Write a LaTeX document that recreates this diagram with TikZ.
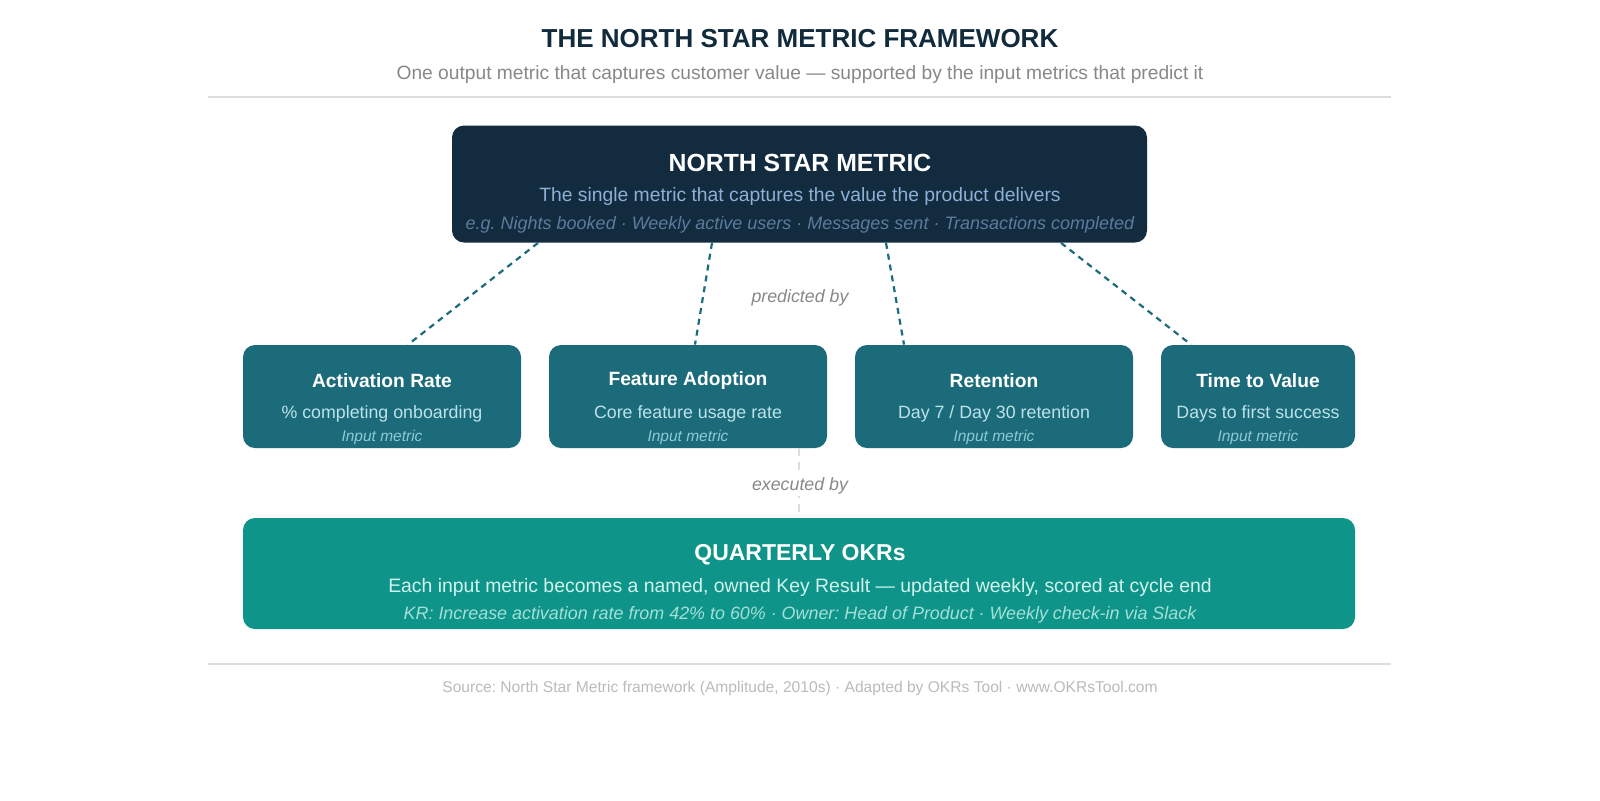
\documentclass[tikz,border=0pt]{standalone}
\usepackage{fontspec}
\setmainfont{Liberation Sans}
\usetikzlibrary{positioning}
\frenchspacing
\definecolor{navy}{HTML}{122B3F}
\definecolor{titleink}{HTML}{112A3C}
\definecolor{navysub}{HTML}{8DB0D6}
\definecolor{navyeg}{HTML}{5B7C9C}
\definecolor{inbox}{HTML}{1C6B7A}
\definecolor{insub}{HTML}{BCE3EA}
\definecolor{initalic}{HTML}{8DCAD6}
\definecolor{okrbox}{HTML}{0E9488}
\definecolor{okrsub}{HTML}{D2F3EE}
\definecolor{okritalic}{HTML}{A3E0D7}
\definecolor{graytext}{HTML}{888888}
\definecolor{footgray}{HTML}{BBBBBB}
\definecolor{rulegray}{HTML}{DDDDDD}
\tikzset{
  nsmbox/.style={fill=navy,rounded corners=6pt,minimum width=347.5pt,minimum height=58.5pt,inner sep=0pt},
  inputbox/.style={fill=inbox,rounded corners=6pt,minimum width=139pt,minimum height=51.5pt,inner sep=0pt},
  okrbigbox/.style={fill=okrbox,rounded corners=6pt,minimum width=556pt,minimum height=55.5pt,inner sep=0pt},
  boxtitle/.style={text=white,font=\fontsize{11.5pt}{13pt}\selectfont\bfseries,inner sep=0pt},
  intitle/.style={text=white,font=\fontsize{9.6pt}{11pt}\selectfont\bfseries,inner sep=0pt},
  insubtext/.style={text=insub,font=\fontsize{8.9pt}{10pt}\selectfont,inner sep=0pt},
  initext/.style={text=initalic,font=\fontsize{7.75pt}{9pt}\selectfont\itshape,inner sep=0pt},
  linklabel/.style={text=graytext,font=\fontsize{8.9pt}{10pt}\selectfont\itshape,inner sep=0pt},
  predline/.style={draw=inbox,line width=1.1pt,dash pattern=on 3pt off 2.5pt},
  execline/.style={draw=rulegray,line width=1pt,dash pattern=on 4pt off 3pt},
  rule/.style={draw=rulegray,line width=1pt}
}

\begin{document}
\begin{tikzpicture}[x=0.5pt,y=-0.5pt]
  \fill[white] (0,0) rectangle (1600,800);

  % heading
  \node[text=titleink,font=\fontsize{13pt}{15pt}\selectfont\bfseries,inner sep=0pt] (title) at (800,39) {THE NORTH STAR METRIC FRAMEWORK};
  \node[text=graytext,font=\fontsize{9.6pt}{11pt}\selectfont,inner sep=0pt] (subtitle) at (800,75) {One output metric that captures customer value — supported by the input metrics that predict it};
  \coordinate (topl) at (208,97);
  \coordinate (topr) at (1391,97);
  \draw[rule] (topl) -- (topr);

  % north star
  \node[nsmbox] (nsm) at (799.5,184) {};
  \node[boxtitle,font=\fontsize{12.4pt}{14pt}\selectfont\bfseries] (nsmtitle) at (800,163) {NORTH STAR METRIC};
  \node[text=navysub,font=\fontsize{9.65pt}{11pt}\selectfont,inner sep=0pt] (nsmsub) at (800,196) {The single metric that captures the value the product delivers};
  \node[text=navyeg,font=\fontsize{9pt}{10pt}\selectfont\itshape,inner sep=0pt] (nsmeg) at (800,225) {e.g. Nights booked · Weekly active users · Messages sent · Transactions completed};

  % input metrics
  \node[inputbox] (act) at (382,396.5) {};
  \node[inputbox] (feat) at (688,396.5) {};
  \node[inputbox] (ret) at (994,396.5) {};
  \node[inputbox,minimum width=97pt] (ttv) at (1258,396.5) {};
  \foreach \b/\t/\s in {act/Activation Rate/\% completing onboarding,
                        feat/Feature Adoption/Core feature usage rate,
                        ret/Retention/{Day 7 / Day 30 retention},
                        ttv/Time to Value/Days to first success}{
    \node[intitle] (\b title) at ([yshift=8pt]\b.center) {\t};
    \node[insubtext] (\b sub) at ([yshift=-8.5pt]\b.center) {\s};
    \node[initext] (\b note) at ([yshift=-20.5pt]\b.center) {Input metric};
  }

  \draw[predline] (538,0 |- nsm.south) -- (408,0 |- act.north);
  \draw[predline] (712,0 |- nsm.south) -- (695,0 |- feat.north);
  \draw[predline] (886,0 |- nsm.south) -- (904,0 |- ret.north);
  \draw[predline] (1061,0 |- nsm.south) -- (1191,0 |- ttv.north);
  \node[linklabel] (pred) at (800,298) {predicted by};

  % okrs
  \node[okrbigbox] (okr) at (799,573.5) {};
  \draw[execline] (okr.north |- act.south) -- (okr.north);
  \node[linklabel,fill=white,inner sep=1pt] (exec) at (800,486) {executed by};
  \node[boxtitle] (okrtitle) at (800,554.5) {QUARTERLY OKRs};
  \node[text=okrsub,font=\fontsize{9.7pt}{11pt}\selectfont,inner sep=0pt] (okrsubt) at (800,587) {Each input metric becomes a named, owned Key Result — updated weekly, scored at cycle end};
  \node[text=okritalic,font=\fontsize{8.95pt}{10pt}\selectfont\itshape,inner sep=0pt] (okreg) at (800,615) {KR: Increase activation rate from 42\% to 60\% · Owner: Head of Product · Weekly check-in via Slack};

  % footer
  \coordinate (botl) at (208,664);
  \coordinate (botr) at (1391,664);
  \draw[rule] (botl) -- (botr);
  \node[text=footgray,font=\fontsize{7.8pt}{9pt}\selectfont,inner sep=0pt] (source) at (800,688) {Source: North Star Metric framework (Amplitude, 2010s) · Adapted by OKRs Tool · www.OKRsTool.com};
\end{tikzpicture}
\end{document}
